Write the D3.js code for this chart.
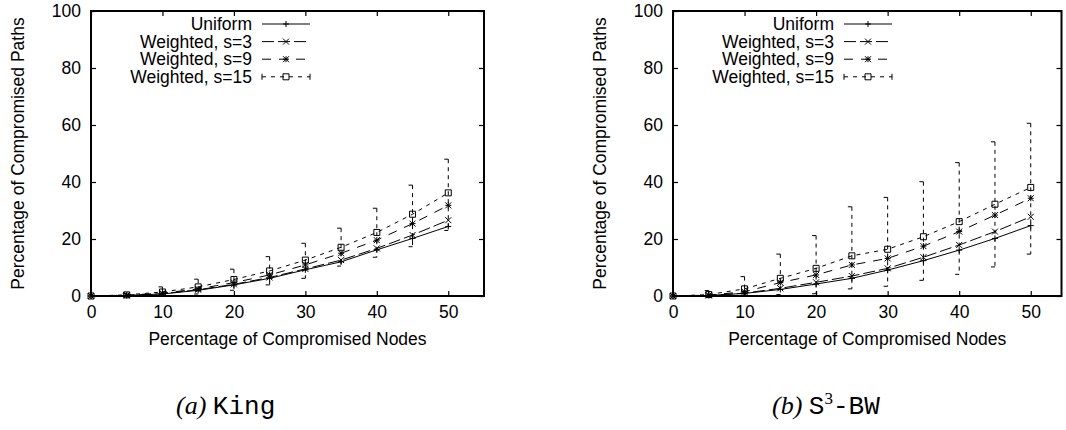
<!DOCTYPE html>
<html>
<head>
<meta charset="utf-8">
<script src="https://cdn.jsdelivr.net/npm/d3@7"></script>
<style>
  body { margin: 0; background: #fff; }
  svg { display: block; }
  text { font-family: "Liberation Sans", Arial, Helvetica, sans-serif; fill: #000; }
</style>
</head>
<body>
<svg id="chart" width="1066" height="430"></svg>
<script>
// x values: percentage of compromised nodes
const nodes = [0, 5, 10, 15, 20, 25, 30, 35, 40, 45, 50];
const seriesNames = ['Uniform', 'Weighted, s=3', 'Weighted, s=9', 'Weighted, s=15'];
const xTicks = [0, 10, 20, 30, 40, 50];
const yTicks = [0, 20, 40, 60, 80, 100];

// (a) King
const kingUniform = [0, 0.2, 0.7, 2.0, 3.9, 6.2, 9.2, 12.0, 16.2, 20.2, 24.4];
const kingS3 = [0, 0.2, 0.8, 2.2, 4.1, 6.5, 9.5, 12.6, 16.7, 21.4, 26.6];
const kingS9 = [0, 0.3, 1.0, 2.5, 4.7, 7.4, 10.9, 15.0, 19.6, 25.4, 31.8];
const kingS15 = [0, 0.4, 1.4, 3.2, 5.8, 8.8, 12.6, 17.1, 22.3, 28.7, 36.2];
const kingS15Low = [0, 0, 0.1, 0.7, 2.0, 3.9, 6.2, 10.5, 13.6, 17.3, 23.0];
const kingS15High = [0, 0.9, 3.2, 5.9, 9.4, 13.8, 18.5, 23.8, 30.8, 38.9, 48.0];

// (b) S3-BW
const bwUniform = [0, 0.2, 0.9, 2.3, 4.2, 6.2, 9.1, 12.4, 16.1, 20.2, 24.7];
const bwS3 = [0, 0.2, 1.0, 2.7, 4.8, 7.0, 9.7, 13.6, 17.9, 22.6, 27.8];
const bwS9 = [0, 0.3, 1.5, 4.7, 7.4, 10.9, 13.2, 17.5, 22.6, 28.4, 34.3];
const bwS15 = [0, 0.5, 2.5, 6.2, 9.7, 14.1, 16.4, 20.8, 26.1, 32.2, 38.1];
const bwS15Low = [0, 0, 0, 0.5, 0.8, 2.5, 3.4, 5.5, 7.6, 10.2, 14.7];
const bwS15High = [0, 1.9, 6.8, 14.7, 21.2, 31.3, 34.6, 40.1, 46.8, 54.1, 60.6];

const lineStyles = [
  { dash: null, marker: 'plus' },
  { dash: '12,4', marker: 'cross' },
  { dash: '9,8', marker: 'star' },
  { dash: '4,5', marker: 'box' },
];

const panels = [
  { series: [kingUniform, kingS3, kingS9, kingS15], low: kingS15Low, high: kingS15High,
    left: 91, right: 484, xMax: 55, tag: 'a', name: 'King', capX: 176 },
  { series: [bwUniform, bwS3, bwS9, bwS15], low: bwS15Low, high: bwS15High,
    left: 673, right: 1061.5, xMax: 54.3, tag: 'b', name: 'S3-BW', capX: 772 },
];

const plotTop = 11, plotBottom = 296;
const fontSize = '17.5px';
const svg = d3.select('#chart');

function markerPath(type, x, y) {
  const s = 3;
  const plus = `M${x - s},${y}h${2 * s}M${x},${y - s}v${2 * s}`;
  const cross = `M${x - s},${y - s}l${2 * s},${2 * s}M${x - s},${y + s}l${2 * s},${-2 * s}`;
  if (type === 'plus') return plus;
  if (type === 'cross') return cross;
  if (type === 'star') return plus + cross;
  return `M${x - s},${y - s}h${2 * s}v${2 * s}h${-2 * s}Z`;
}

panels.forEach((p) => {
  const g = svg.append('g');

  const xScale = d3.scaleLinear().domain([0, p.xMax]).range([p.left, p.right]);
  const yScale = d3.scaleLinear().domain([0, 100]).range([plotBottom, plotTop]);

  // axes: inward ticks on all four sides
  g.append('g')
    .attr('transform', `translate(0,${plotBottom})`)
    .call(d3.axisBottom(xScale).tickValues(xTicks).tickSize(-5).tickPadding(10));
  g.append('g')
    .attr('transform', `translate(${p.left},0)`)
    .call(d3.axisLeft(yScale).tickValues(yTicks).tickSize(-5).tickPadding(10));
  g.append('g')
    .attr('transform', `translate(0,${plotTop})`)
    .call(d3.axisTop(xScale).tickValues(xTicks).tickSize(-5).tickFormat(''));
  g.append('g')
    .attr('transform', `translate(${p.right},0)`)
    .call(d3.axisRight(yScale).tickValues(yTicks).tickSize(-5).tickFormat(''));

  g.selectAll('.domain').remove();
  g.selectAll('.tick line').attr('stroke', '#000').attr('stroke-width', 1.2);
  g.selectAll('.tick text')
    .attr('fill', '#000')
    .style('font-size', fontSize)
    .style('font-family', '"Liberation Sans", Arial, sans-serif');

  g.append('rect')
    .attr('x', p.left)
    .attr('y', plotTop)
    .attr('width', p.right - p.left)
    .attr('height', plotBottom - plotTop)
    .attr('fill', 'none')
    .attr('stroke', '#000')
    .attr('stroke-width', 2);

  // axis titles
  g.append('text')
    .attr('x', (p.left + p.right) / 2)
    .attr('y', 345)
    .attr('text-anchor', 'middle')
    .style('font-size', fontSize)
    .text('Percentage of Compromised Nodes');
  g.append('text')
    .attr('transform', `translate(${p.left - 67},${(plotTop + plotBottom) / 2}) rotate(-90)`)
    .attr('text-anchor', 'middle')
    .style('font-size', fontSize)
    .text('Percentage of Compromised Paths');

  // error bars for s=15
  const bars = g.append('g').attr('class', 'errorbars');
  nodes.forEach((n, i) => {
    if (p.high[i] <= p.low[i]) return;
    const x = xScale(n);
    bars.append('line')
      .attr('x1', x).attr('x2', x)
      .attr('y1', yScale(p.high[i])).attr('y2', yScale(p.low[i]));
    [p.high[i], p.low[i]].forEach((v) => {
      bars.append('line')
        .attr('x1', x - 4).attr('x2', x + 4)
        .attr('y1', yScale(v)).attr('y2', yScale(v));
    });
  });
  bars.selectAll('line')
    .attr('stroke', '#000')
    .attr('stroke-width', 1)
    .attr('stroke-dasharray', '4,4');

  // series lines and markers
  const line = d3.line().x((d) => xScale(d[0])).y((d) => yScale(d[1]));
  p.series.forEach((vals, k) => {
    const st = lineStyles[k];
    const pts = nodes.map((n, i) => [n, vals[i]]);
    g.append('path')
      .datum(pts)
      .attr('d', line)
      .attr('fill', 'none')
      .attr('stroke', '#000')
      .attr('stroke-width', 1)
      .attr('stroke-dasharray', st.dash);
    g.append('g')
      .selectAll('path')
      .data(pts)
      .join('path')
      .attr('d', (d) => markerPath(st.marker, xScale(d[0]), yScale(d[1])))
      .attr('fill', 'none')
      .attr('stroke', '#000')
      .attr('stroke-width', 1);
  });

  // legend
  const legend = g.append('g');
  seriesNames.forEach((name, k) => {
    const st = lineStyles[k];
    const y = 24 + k * 17.6;
    const tx = p.left + 161;
    const x1 = p.left + 171, x2 = p.left + 219, xm = (x1 + x2) / 2;
    legend.append('text')
      .attr('x', tx)
      .attr('y', y)
      .attr('dy', '0.35em')
      .attr('text-anchor', 'end')
      .style('font-size', fontSize)
      .text(name);
    legend.append('line')
      .attr('x1', x1).attr('x2', x2).attr('y1', y).attr('y2', y)
      .attr('stroke', '#000')
      .attr('stroke-dasharray', st.dash);
    legend.append('path')
      .attr('d', markerPath(st.marker, xm, y))
      .attr('fill', 'none')
      .attr('stroke', '#000');
    if (k === 3) {
      [x1, x2].forEach((x) => {
        legend.append('line')
          .attr('x1', x).attr('x2', x).attr('y1', y - 3).attr('y2', y + 3)
          .attr('stroke', '#000');
      });
    }
  });

  // caption
  const cap = g.append('text')
    .attr('x', p.capX)
    .attr('y', 414)
    .style('font-size', '26px');
  cap.append('tspan')
    .style('font-family', '"Liberation Serif", "DejaVu Serif", serif')
    .style('font-style', 'italic')
    .text(`(${p.tag}) `);
  if (p.tag === 'a') {
    cap.append('tspan')
      .style('font-family', '"Liberation Mono", "DejaVu Sans Mono", monospace')
      .text(p.name);
  } else {
    cap.append('tspan')
      .style('font-family', '"Liberation Mono", "DejaVu Sans Mono", monospace')
      .text('S');
    cap.append('tspan')
      .style('font-family', '"Liberation Serif", serif')
      .style('font-size', '17px')
      .attr('dy', -10)
      .text('3');
    cap.append('tspan')
      .style('font-family', '"Liberation Mono", "DejaVu Sans Mono", monospace')
      .attr('dy', 10)
      .text('-BW');
  }
});
</script>
</body>
</html>
